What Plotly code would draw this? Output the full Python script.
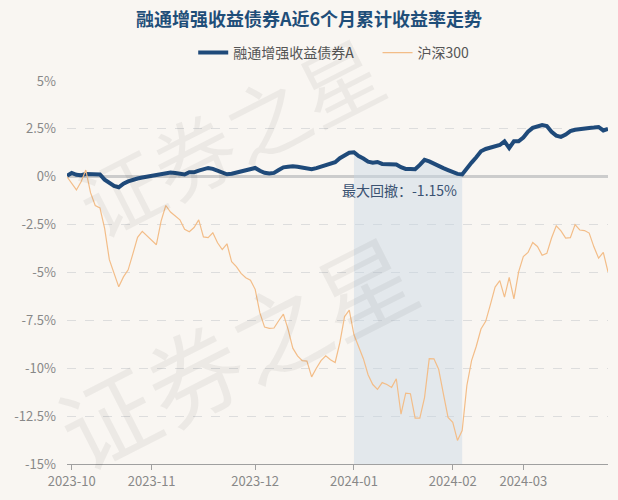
import plotly.graph_objects as go

# ---- data (cumulative return, %) ----
month_labels = ["2023-10", "2023-11", "2023-12", "2024-01", "2024-02", "2024-03"]
# trading days per month in the window (Sep tail, Oct, Nov, Dec, Jan, Feb, Mar)
month_days = [1, 17, 22, 21, 21, 15, 19]

fund = [0.05, 0.20, 0.10, 0.08, 0.14, 0.14, 0.12, 0.12, -0.15, -0.33,
        -0.48, -0.55, -0.36, -0.24, -0.14, -0.09, -0.04, 0.01, 0.06, 0.12,
        0.17, 0.20, 0.22, 0.19, 0.15, 0.12, 0.24, 0.23, 0.32, 0.39,
        0.46, 0.41, 0.32, 0.21, 0.13, 0.16, 0.22, 0.26, 0.30, 0.38,
        0.46, 0.31, 0.21, 0.17, 0.20, 0.35, 0.49, 0.52, 0.55, 0.52,
        0.49, 0.44, 0.39, 0.45, 0.52, 0.60, 0.66, 0.76, 0.97, 1.12,
        1.25, 1.28, 1.08, 0.95, 0.79, 0.73, 0.77, 0.67, 0.65, 0.64,
        0.64, 0.50, 0.41, 0.40, 0.39, 0.62, 0.88, 0.80, 0.67, 0.56,
        0.45, 0.35, 0.24, 0.15, 0.12, 0.45, 0.74, 1.02, 1.33, 1.45,
        1.53, 1.62, 1.66, 1.85, 1.50, 1.85, 1.85, 2.05, 2.35, 2.55,
        2.65, 2.70, 2.65, 2.35, 2.15, 2.08, 2.20, 2.38, 2.45, 2.50,
        2.52, 2.55, 2.57, 2.60, 2.42, 2.50]

hs300 = [0.00, -0.34, -0.69, -0.26, 0.35, -0.83, -1.50, -1.63, -2.70, -4.33,
         -5.03, -5.75, -5.23, -4.86, -4.03, -3.16, -2.85, -3.08, -3.28, -3.55,
         -2.32, -1.50, -1.84, -2.03, -2.25, -2.74, -2.87, -2.65, -2.25, -3.14,
         -3.18, -2.93, -3.45, -3.80, -3.50, -4.44, -4.69, -5.05, -5.27, -5.40,
         -5.88, -7.11, -7.85, -7.92, -7.90, -7.52, -7.17, -7.97, -8.95, -9.35,
         -9.60, -9.63, -10.45, -10.00, -9.60, -9.35, -9.56, -9.70, -8.66, -7.30,
         -6.97, -8.25, -8.90, -9.50, -10.34, -10.85, -11.10, -10.75, -10.85, -11.00,
         -10.55, -12.40, -11.30, -11.33, -12.60, -12.60, -11.53, -9.50, -9.51, -10.05,
         -11.33, -12.57, -12.82, -13.77, -13.25, -10.90, -9.60, -8.85, -7.95, -7.55,
         -6.68, -5.76, -5.42, -6.29, -5.25, -6.38, -4.97, -4.17, -3.95, -3.43,
         -3.64, -4.10, -4.00, -3.20, -2.56, -2.83, -3.20, -3.18, -2.50, -2.78,
         -2.81, -2.94, -3.66, -4.25, -3.95, -4.97]

y_ticks = [5, 2.5, 0, -2.5, -5, -7.5, -10, -12.5, -15]
y_tick_labels = ["5%", "2.5%", "0%", "-2.5%", "-5%", "-7.5%", "-10%", "-12.5%", "-15%"]

fund_name = "融通增强收益债券A"
index_name = "沪深300"
title_text = "融通增强收益债券A近6个月累计收益率走势"
watermark = "证券之星"

# ---- derived ----
x = list(range(len(fund)))
tick_pos = []
acc = 0
for d in month_days[:-1]:
    acc += d
    tick_pos.append(acc)

# max drawdown of the fund
best_dd, peak_i, trough_i, run_peak_i = 0.0, 0, 0, 0
for i, v in enumerate(fund):
    if v > fund[run_peak_i]:
        run_peak_i = i
    dd = (1 + v / 100) / (1 + fund[run_peak_i] / 100) - 1
    if dd < best_dd:
        best_dd, peak_i, trough_i = dd, run_peak_i, i

y_min, y_max = min(y_ticks), max(y_ticks)

FONT = "Noto Sans CJK SC, Microsoft YaHei, sans-serif"
BG = "#f9f6f2"
FUND_C = "#1f4a7a"
HS_C = "#f3bd88"
NB = "\u00a0"

fig = go.Figure()

# drawdown shaded area (under fund line, down to axis bottom)
sx = x[peak_i:trough_i + 1]
sy = fund[peak_i:trough_i + 1]
fig.add_trace(go.Scatter(
    x=sx + sx[::-1], y=sy + [y_min] * len(sx),
    fill="toself", fillcolor="rgba(200,215,228,0.45)",
    line=dict(width=0), mode="lines", showlegend=False, hoverinfo="skip"))

fig.add_trace(go.Scatter(x=x, y=fund, mode="lines", name=fund_name + NB * 6,
                         line=dict(color=FUND_C, width=4)))
fig.add_trace(go.Scatter(x=x, y=hs300, mode="lines", name=index_name,
                         line=dict(color=HS_C, width=1.2)))

# drawdown label
fig.add_annotation(x=(peak_i + trough_i) / 2 - 1.9, y=0, xref="x", yref="y",
                   text="最大回撤：%.2f%%" % (best_dd * 100), showarrow=False,
                   xanchor="center", yanchor="top", yshift=-1,
                   font=dict(family=FONT, size=14, color="#3a5272"))

# watermarks (faint, diagonal)
for (wx, wy, ws) in [(0.30, 0.86, 82), (0.31, 0.30, 96)]:
    fig.add_annotation(x=wx, y=wy, xref="paper", yref="paper", text=watermark,
                       showarrow=False, textangle=-27,
                       xanchor="center", yanchor="middle",
                       font=dict(family=FONT, size=ws, color="rgba(0,0,0,0.05)"))

fig.update_layout(
    width=618, height=500,
    paper_bgcolor=BG, plot_bgcolor=BG,
    margin=dict(l=67, r=10, t=81, b=36, autoexpand=False),
    font=dict(family=FONT, color="#888888"),
    title=dict(text="<b>%s</b>" % title_text, x=0.5, xanchor="center",
               y=1 - 20 / 500, yanchor="middle", yref="container",
               font=dict(family=FONT, size=18, color="#1f4e79")),
    legend=dict(orientation="h", x=0.493, xanchor="center",
                y=1 - 53 / 500, yanchor="middle", yref="container",
                font=dict(family=FONT, size=14, color="#555555"),
                itemwidth=30, bgcolor="rgba(0,0,0,0)", traceorder="normal"),
    showlegend=True,
    xaxis=dict(range=[0, len(fund) - 1], tickvals=tick_pos, ticktext=month_labels,
               showgrid=False, zeroline=False, showline=True, linecolor="#a0a0a0",
               linewidth=1, ticks="outside", ticklen=5, tickcolor="#a0a0a0",
               automargin=False,
               tickfont=dict(family=FONT, size=13, color="#888888")),
    yaxis=dict(range=[y_min, y_max], tickvals=y_ticks, ticktext=y_tick_labels,
               showgrid=True, gridcolor="#dddddd", griddash="dash", gridwidth=1,
               zeroline=True, zerolinecolor="#cccccc", zerolinewidth=3,
               showline=False, ticks="", ticklabelstandoff=10, automargin=False,
               tickfont=dict(family=FONT, size=13, color="#888888")),
)

fig.write_html(
    "out.html",
    config={"displayModeBar": False},
    post_script=("document.body.style.margin='0';"
                 "document.body.style.overflow='hidden';"
                 "document.body.style.background='%s';" % BG),
)
